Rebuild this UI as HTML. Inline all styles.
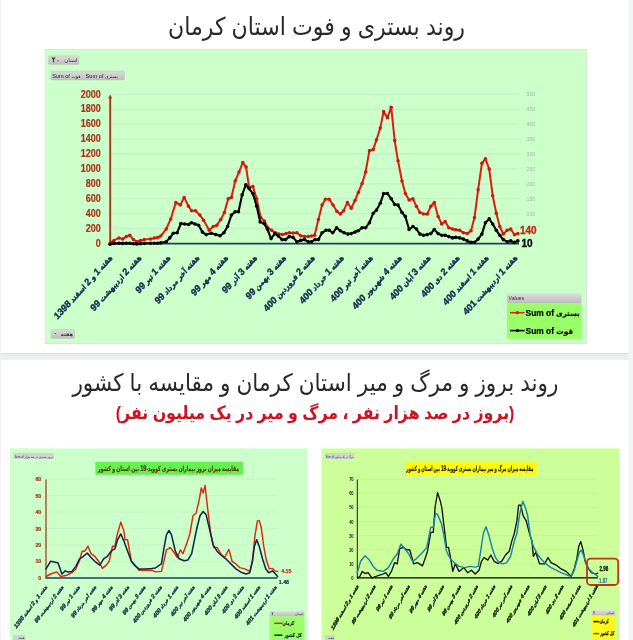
<!DOCTYPE html>
<html lang="fa">
<head>
<meta charset="utf-8">
<title>روند بستری و فوت استان کرمان</title>
<style>
html,body{margin:0;padding:0;background:#fff;}
body{width:633px;height:640px;overflow:hidden;position:relative;font-family:"Liberation Sans","DejaVu Sans",sans-serif;}
.t{position:absolute;left:0;width:633px;text-align:center;direction:rtl;white-space:nowrap;margin:0;line-height:1;}
#t1{top:16px;font-size:22.1px;color:#282828;font-weight:normal;transform:scaleY(1.12);transform-origin:50% 50%;}
#t2{left:-1.1px;top:372px;font-size:21.6px;color:#282828;font-weight:normal;transform:scaleY(1.12);transform-origin:50% 50%;}
#t3{left:-1.4px;top:405px;font-size:15.8px;color:#cf1222;font-weight:bold;transform:scaleY(1.14);transform-origin:50% 50%;}
svg{position:absolute;left:0;top:0;}
svg text{font-family:"Liberation Sans","DejaVu Sans",sans-serif;}
svg .xl text{font-family:"Liberation Sans","DejaVu Sans Condensed","DejaVu Sans",sans-serif;}
</style>
</head>
<body>
<svg width="633" height="640" viewBox="0 0 633 640">
<defs><linearGradient id="gb" x1="0" y1="0" x2="0" y2="1"><stop offset="0" stop-color="#dadcda"/><stop offset="1" stop-color="#bcc0bc"/></linearGradient></defs>
<defs><linearGradient id="gh" x1="0" y1="0" x2="0" y2="1"><stop offset="0" stop-color="#dedede"/><stop offset="1" stop-color="#bcbcbc"/></linearGradient></defs>
<rect x="628.6" y="0" width="4.4" height="640" fill="#f4f5f7"/>
<rect x="0" y="352.9" width="628.6" height="6.9" fill="#ebedf0"/>
<rect x="0" y="352.9" width="628.6" height="1.1" fill="#dddfe3"/>
<rect x="0" y="0" width="0.7" height="640" fill="#eef0f2"/>
<g id="top">
<rect x="45.2" y="49.4" width="541.4" height="294" fill="#ccffca" stroke="#d3e6d3" stroke-width="0.9"/>
<line x1="110" x2="519" y1="228.5" y2="228.5" stroke="#c3f2c5" stroke-width="1.3"/>
<line x1="110" x2="519" y1="213.6" y2="213.6" stroke="#c3f2c5" stroke-width="1.3"/>
<line x1="110" x2="519" y1="198.7" y2="198.7" stroke="#c3f2c5" stroke-width="1.3"/>
<line x1="110" x2="519" y1="183.8" y2="183.8" stroke="#c3f2c5" stroke-width="1.3"/>
<line x1="110" x2="519" y1="168.9" y2="168.9" stroke="#c3f2c5" stroke-width="1.3"/>
<line x1="110" x2="519" y1="154.0" y2="154.0" stroke="#c3f2c5" stroke-width="1.3"/>
<line x1="110" x2="519" y1="139.1" y2="139.1" stroke="#c3f2c5" stroke-width="1.3"/>
<line x1="110" x2="519" y1="124.2" y2="124.2" stroke="#c3f2c5" stroke-width="1.3"/>
<line x1="110" x2="519" y1="109.3" y2="109.3" stroke="#c3f2c5" stroke-width="1.3"/>
<line x1="110" x2="519" y1="94.4" y2="94.4" stroke="#c3f2c5" stroke-width="1.3"/>
<text transform="translate(100.8 246.5) scale(0.9 1)" font-size="10" font-weight="bold" fill="#ad3119" text-anchor="end" stroke="#ad3119" stroke-width="0.2">0</text>
<text transform="translate(100.8 231.6) scale(0.9 1)" font-size="10" font-weight="bold" fill="#ad3119" text-anchor="end" stroke="#ad3119" stroke-width="0.2">200</text>
<text transform="translate(100.8 216.7) scale(0.9 1)" font-size="10" font-weight="bold" fill="#ad3119" text-anchor="end" stroke="#ad3119" stroke-width="0.2">400</text>
<text transform="translate(100.8 201.8) scale(0.9 1)" font-size="10" font-weight="bold" fill="#ad3119" text-anchor="end" stroke="#ad3119" stroke-width="0.2">600</text>
<text transform="translate(100.8 186.9) scale(0.9 1)" font-size="10" font-weight="bold" fill="#ad3119" text-anchor="end" stroke="#ad3119" stroke-width="0.2">800</text>
<text transform="translate(100.8 172.0) scale(0.9 1)" font-size="10" font-weight="bold" fill="#ad3119" text-anchor="end" stroke="#ad3119" stroke-width="0.2">1000</text>
<text transform="translate(100.8 157.1) scale(0.9 1)" font-size="10" font-weight="bold" fill="#ad3119" text-anchor="end" stroke="#ad3119" stroke-width="0.2">1200</text>
<text transform="translate(100.8 142.2) scale(0.9 1)" font-size="10" font-weight="bold" fill="#ad3119" text-anchor="end" stroke="#ad3119" stroke-width="0.2">1400</text>
<text transform="translate(100.8 127.3) scale(0.9 1)" font-size="10" font-weight="bold" fill="#ad3119" text-anchor="end" stroke="#ad3119" stroke-width="0.2">1600</text>
<text transform="translate(100.8 112.4) scale(0.9 1)" font-size="10" font-weight="bold" fill="#ad3119" text-anchor="end" stroke="#ad3119" stroke-width="0.2">1800</text>
<text transform="translate(100.8 97.5) scale(0.9 1)" font-size="10" font-weight="bold" fill="#ad3119" text-anchor="end" stroke="#ad3119" stroke-width="0.2">2000</text>
<g font-size="5.2" fill="#a8b4aa" text-anchor="start">
<text x="526.6" y="215.5">100</text>
<text x="526.6" y="200.6">150</text>
<text x="526.6" y="185.7">200</text>
<text x="526.6" y="170.8">250</text>
<text x="526.6" y="155.9">300</text>
<text x="526.6" y="141.0">350</text>
<text x="526.6" y="126.1">400</text>
<text x="526.6" y="111.2">450</text>
<text x="526.6" y="96.3">500</text>
</g>
<line x1="110.2" x2="110.2" y1="243.4" y2="97" stroke="#a8361c" stroke-width="1.9"/>
<path d="M110.2 94.6 L108.2 98.6 L112.2 98.6 Z" fill="#a8361c"/>
<line x1="110" x2="519" y1="243.70000000000002" y2="243.70000000000002" stroke="#1b4259" stroke-width="1.8"/>
<polyline points="110.1,242.9 113.9,240.4 119.0,237.9 122.7,239.1 126.3,236.6 129.8,235.3 133.4,239.6 136.7,241.7 140.4,240.6 144.2,239.6 150.6,239.1 154.3,238.1 157.6,237.4 160.7,236.1 166.2,229.0 170.8,218.9 175.8,202.5 180.4,205.0 184.2,197.4 188.5,206.3 191.5,210.8 195.5,210.8 199.8,215.1 203.6,220.2 209.2,230.3 213.2,226.5 216.8,225.2 220.8,219.4 224.4,212.6 228.2,198.7 231.4,197.4 235.2,181.0 239.0,172.1 242.8,162.5 246.1,167.1 249.1,187.3 252.9,186.6 256.7,198.7 260.7,217.6 264.5,220.9 267.8,227.8 271.6,230.3 275.4,232.8 278.9,234.1 282.5,234.6 286.0,233.6 289.3,232.8 293.1,233.1 296.9,232.8 300.7,235.8 304.5,236.4 308.2,236.6 311.5,236.1 314.6,235.3 318.4,219.4 322.1,205.0 325.4,199.2 329.2,199.2 333.0,205.0 336.8,211.3 340.3,213.9 343.6,210.8 347.4,202.5 351.2,208.3 355.0,200.5 358.3,192.4 362.1,183.5 365.6,172.1 369.4,150.7 373.2,149.4 376.5,139.8 380.3,127.9 383.6,111.5 387.4,117.8 391.2,107.2 394.7,140.6 398.0,160.8 402.0,181.0 405.3,193.6 409.1,200.0 412.9,198.7 416.4,206.3 419.9,212.6 423.5,213.9 427.3,213.9 430.8,206.3 434.3,202.5 438.1,216.4 441.7,224.0 445.2,221.4 448.8,227.8 452.5,229.0 455.8,229.8 459.6,230.3 463.4,232.8 467.2,233.6 471.0,230.8 474.5,217.6 478.1,189.8 481.9,163.3 485.4,158.8 489.2,168.9 492.7,195.7 496.3,213.3 499.8,226.5 503.3,234.1 507.1,230.3 510.7,229.0 514.5,234.8 517.8,233.6" fill="none" stroke-linejoin="round" stroke-linecap="round" stroke="#dc1c0e" stroke-width="2"/>
<g fill="#d4140c"><circle cx="110.1" cy="242.9" r="1.75"/><circle cx="113.9" cy="240.4" r="1.75"/><circle cx="119.0" cy="237.9" r="1.75"/><circle cx="122.7" cy="239.1" r="1.75"/><circle cx="126.3" cy="236.6" r="1.75"/><circle cx="129.8" cy="235.3" r="1.75"/><circle cx="133.4" cy="239.6" r="1.75"/><circle cx="136.7" cy="241.7" r="1.75"/><circle cx="140.4" cy="240.6" r="1.75"/><circle cx="144.2" cy="239.6" r="1.75"/><circle cx="150.6" cy="239.1" r="1.75"/><circle cx="154.3" cy="238.1" r="1.75"/><circle cx="157.6" cy="237.4" r="1.75"/><circle cx="160.7" cy="236.1" r="1.75"/><circle cx="166.2" cy="229.0" r="1.75"/><circle cx="170.8" cy="218.9" r="1.75"/><circle cx="175.8" cy="202.5" r="1.75"/><circle cx="180.4" cy="205.0" r="1.75"/><circle cx="184.2" cy="197.4" r="1.75"/><circle cx="188.5" cy="206.3" r="1.75"/><circle cx="191.5" cy="210.8" r="1.75"/><circle cx="195.5" cy="210.8" r="1.75"/><circle cx="199.8" cy="215.1" r="1.75"/><circle cx="203.6" cy="220.2" r="1.75"/><circle cx="209.2" cy="230.3" r="1.75"/><circle cx="213.2" cy="226.5" r="1.75"/><circle cx="216.8" cy="225.2" r="1.75"/><circle cx="220.8" cy="219.4" r="1.75"/><circle cx="224.4" cy="212.6" r="1.75"/><circle cx="228.2" cy="198.7" r="1.75"/><circle cx="231.4" cy="197.4" r="1.75"/><circle cx="235.2" cy="181.0" r="1.75"/><circle cx="239.0" cy="172.1" r="1.75"/><circle cx="242.8" cy="162.5" r="1.75"/><circle cx="246.1" cy="167.1" r="1.75"/><circle cx="249.1" cy="187.3" r="1.75"/><circle cx="252.9" cy="186.6" r="1.75"/><circle cx="256.7" cy="198.7" r="1.75"/><circle cx="260.7" cy="217.6" r="1.75"/><circle cx="264.5" cy="220.9" r="1.75"/><circle cx="267.8" cy="227.8" r="1.75"/><circle cx="271.6" cy="230.3" r="1.75"/><circle cx="275.4" cy="232.8" r="1.75"/><circle cx="278.9" cy="234.1" r="1.75"/><circle cx="282.5" cy="234.6" r="1.75"/><circle cx="286.0" cy="233.6" r="1.75"/><circle cx="289.3" cy="232.8" r="1.75"/><circle cx="293.1" cy="233.1" r="1.75"/><circle cx="296.9" cy="232.8" r="1.75"/><circle cx="300.7" cy="235.8" r="1.75"/><circle cx="304.5" cy="236.4" r="1.75"/><circle cx="308.2" cy="236.6" r="1.75"/><circle cx="311.5" cy="236.1" r="1.75"/><circle cx="314.6" cy="235.3" r="1.75"/><circle cx="318.4" cy="219.4" r="1.75"/><circle cx="322.1" cy="205.0" r="1.75"/><circle cx="325.4" cy="199.2" r="1.75"/><circle cx="329.2" cy="199.2" r="1.75"/><circle cx="333.0" cy="205.0" r="1.75"/><circle cx="336.8" cy="211.3" r="1.75"/><circle cx="340.3" cy="213.9" r="1.75"/><circle cx="343.6" cy="210.8" r="1.75"/><circle cx="347.4" cy="202.5" r="1.75"/><circle cx="351.2" cy="208.3" r="1.75"/><circle cx="355.0" cy="200.5" r="1.75"/><circle cx="358.3" cy="192.4" r="1.75"/><circle cx="362.1" cy="183.5" r="1.75"/><circle cx="365.6" cy="172.1" r="1.75"/><circle cx="369.4" cy="150.7" r="1.75"/><circle cx="373.2" cy="149.4" r="1.75"/><circle cx="376.5" cy="139.8" r="1.75"/><circle cx="380.3" cy="127.9" r="1.75"/><circle cx="383.6" cy="111.5" r="1.75"/><circle cx="387.4" cy="117.8" r="1.75"/><circle cx="391.2" cy="107.2" r="1.75"/><circle cx="394.7" cy="140.6" r="1.75"/><circle cx="398.0" cy="160.8" r="1.75"/><circle cx="402.0" cy="181.0" r="1.75"/><circle cx="405.3" cy="193.6" r="1.75"/><circle cx="409.1" cy="200.0" r="1.75"/><circle cx="412.9" cy="198.7" r="1.75"/><circle cx="416.4" cy="206.3" r="1.75"/><circle cx="419.9" cy="212.6" r="1.75"/><circle cx="423.5" cy="213.9" r="1.75"/><circle cx="427.3" cy="213.9" r="1.75"/><circle cx="430.8" cy="206.3" r="1.75"/><circle cx="434.3" cy="202.5" r="1.75"/><circle cx="438.1" cy="216.4" r="1.75"/><circle cx="441.7" cy="224.0" r="1.75"/><circle cx="445.2" cy="221.4" r="1.75"/><circle cx="448.8" cy="227.8" r="1.75"/><circle cx="452.5" cy="229.0" r="1.75"/><circle cx="455.8" cy="229.8" r="1.75"/><circle cx="459.6" cy="230.3" r="1.75"/><circle cx="463.4" cy="232.8" r="1.75"/><circle cx="467.2" cy="233.6" r="1.75"/><circle cx="471.0" cy="230.8" r="1.75"/><circle cx="474.5" cy="217.6" r="1.75"/><circle cx="478.1" cy="189.8" r="1.75"/><circle cx="481.9" cy="163.3" r="1.75"/><circle cx="485.4" cy="158.8" r="1.75"/><circle cx="489.2" cy="168.9" r="1.75"/><circle cx="492.7" cy="195.7" r="1.75"/><circle cx="496.3" cy="213.3" r="1.75"/><circle cx="499.8" cy="226.5" r="1.75"/><circle cx="503.3" cy="234.1" r="1.75"/><circle cx="507.1" cy="230.3" r="1.75"/><circle cx="510.7" cy="229.0" r="1.75"/><circle cx="514.5" cy="234.8" r="1.75"/><circle cx="517.8" cy="233.6" r="1.75"/></g>
<polyline points="110.1,244.2 113.9,243.4 119.0,243.2 122.7,243.4 126.3,243.2 129.8,243.2 133.4,243.7 136.7,243.9 140.4,243.7 144.2,243.4 150.6,243.2 154.3,243.2 157.6,243.2 160.7,242.9 166.2,241.7 169.8,237.9 173.3,233.3 177.1,232.8 180.9,223.5 184.7,224.0 188.5,224.5 191.5,222.7 195.0,224.0 198.6,225.2 202.4,232.1 206.2,234.6 211.2,233.3 215.8,234.6 220.1,235.8 223.9,232.8 227.6,226.5 231.4,215.1 235.2,211.8 238.5,211.8 242.1,194.9 245.8,184.8 249.1,188.6 252.9,193.6 256.7,206.3 260.2,221.9 264.0,223.5 267.3,229.0 271.1,238.6 274.9,233.6 278.4,236.1 282.0,239.6 285.5,239.6 289.3,236.6 293.1,237.4 296.9,241.7 300.7,240.4 304.5,239.6 308.2,241.7 311.5,241.7 315.1,239.6 318.4,239.6 322.1,232.8 325.9,230.3 329.2,230.3 332.8,232.8 336.6,227.8 340.3,230.8 344.1,232.8 347.9,234.1 351.2,233.6 355.0,232.1 358.3,230.8 362.1,227.8 365.6,227.8 369.4,222.7 373.2,213.3 376.5,210.1 380.3,203.2 383.6,193.6 387.4,193.6 391.2,198.7 394.7,204.5 398.0,205.0 402.0,212.6 405.3,216.4 409.1,229.5 412.9,226.5 416.4,229.0 419.9,234.1 423.5,235.3 427.3,234.6 430.8,233.6 434.3,229.5 438.1,233.6 441.7,235.3 445.2,235.3 448.8,236.6 452.5,237.9 455.8,237.4 459.6,237.9 463.4,239.1 467.2,240.9 471.0,242.4 474.5,242.4 478.1,239.1 481.9,234.1 485.4,222.7 489.2,218.9 492.7,224.0 496.3,230.3 499.8,235.3 503.3,239.6 507.1,241.7 510.7,240.9 514.5,242.4 517.8,240.9" fill="none" stroke-linejoin="round" stroke-linecap="round" stroke="#000" stroke-width="2.1"/>
<g fill="#000"><circle cx="110.1" cy="244.2" r="1.8"/><circle cx="113.9" cy="243.4" r="1.8"/><circle cx="119.0" cy="243.2" r="1.8"/><circle cx="122.7" cy="243.4" r="1.8"/><circle cx="126.3" cy="243.2" r="1.8"/><circle cx="129.8" cy="243.2" r="1.8"/><circle cx="133.4" cy="243.7" r="1.8"/><circle cx="136.7" cy="243.9" r="1.8"/><circle cx="140.4" cy="243.7" r="1.8"/><circle cx="144.2" cy="243.4" r="1.8"/><circle cx="150.6" cy="243.2" r="1.8"/><circle cx="154.3" cy="243.2" r="1.8"/><circle cx="157.6" cy="243.2" r="1.8"/><circle cx="160.7" cy="242.9" r="1.8"/><circle cx="166.2" cy="241.7" r="1.8"/><circle cx="169.8" cy="237.9" r="1.8"/><circle cx="173.3" cy="233.3" r="1.8"/><circle cx="177.1" cy="232.8" r="1.8"/><circle cx="180.9" cy="223.5" r="1.8"/><circle cx="184.7" cy="224.0" r="1.8"/><circle cx="188.5" cy="224.5" r="1.8"/><circle cx="191.5" cy="222.7" r="1.8"/><circle cx="195.0" cy="224.0" r="1.8"/><circle cx="198.6" cy="225.2" r="1.8"/><circle cx="202.4" cy="232.1" r="1.8"/><circle cx="206.2" cy="234.6" r="1.8"/><circle cx="211.2" cy="233.3" r="1.8"/><circle cx="215.8" cy="234.6" r="1.8"/><circle cx="220.1" cy="235.8" r="1.8"/><circle cx="223.9" cy="232.8" r="1.8"/><circle cx="227.6" cy="226.5" r="1.8"/><circle cx="231.4" cy="215.1" r="1.8"/><circle cx="235.2" cy="211.8" r="1.8"/><circle cx="238.5" cy="211.8" r="1.8"/><circle cx="242.1" cy="194.9" r="1.8"/><circle cx="245.8" cy="184.8" r="1.8"/><circle cx="249.1" cy="188.6" r="1.8"/><circle cx="252.9" cy="193.6" r="1.8"/><circle cx="256.7" cy="206.3" r="1.8"/><circle cx="260.2" cy="221.9" r="1.8"/><circle cx="264.0" cy="223.5" r="1.8"/><circle cx="267.3" cy="229.0" r="1.8"/><circle cx="271.1" cy="238.6" r="1.8"/><circle cx="274.9" cy="233.6" r="1.8"/><circle cx="278.4" cy="236.1" r="1.8"/><circle cx="282.0" cy="239.6" r="1.8"/><circle cx="285.5" cy="239.6" r="1.8"/><circle cx="289.3" cy="236.6" r="1.8"/><circle cx="293.1" cy="237.4" r="1.8"/><circle cx="296.9" cy="241.7" r="1.8"/><circle cx="300.7" cy="240.4" r="1.8"/><circle cx="304.5" cy="239.6" r="1.8"/><circle cx="308.2" cy="241.7" r="1.8"/><circle cx="311.5" cy="241.7" r="1.8"/><circle cx="315.1" cy="239.6" r="1.8"/><circle cx="318.4" cy="239.6" r="1.8"/><circle cx="322.1" cy="232.8" r="1.8"/><circle cx="325.9" cy="230.3" r="1.8"/><circle cx="329.2" cy="230.3" r="1.8"/><circle cx="332.8" cy="232.8" r="1.8"/><circle cx="336.6" cy="227.8" r="1.8"/><circle cx="340.3" cy="230.8" r="1.8"/><circle cx="344.1" cy="232.8" r="1.8"/><circle cx="347.9" cy="234.1" r="1.8"/><circle cx="351.2" cy="233.6" r="1.8"/><circle cx="355.0" cy="232.1" r="1.8"/><circle cx="358.3" cy="230.8" r="1.8"/><circle cx="362.1" cy="227.8" r="1.8"/><circle cx="365.6" cy="227.8" r="1.8"/><circle cx="369.4" cy="222.7" r="1.8"/><circle cx="373.2" cy="213.3" r="1.8"/><circle cx="376.5" cy="210.1" r="1.8"/><circle cx="380.3" cy="203.2" r="1.8"/><circle cx="383.6" cy="193.6" r="1.8"/><circle cx="387.4" cy="193.6" r="1.8"/><circle cx="391.2" cy="198.7" r="1.8"/><circle cx="394.7" cy="204.5" r="1.8"/><circle cx="398.0" cy="205.0" r="1.8"/><circle cx="402.0" cy="212.6" r="1.8"/><circle cx="405.3" cy="216.4" r="1.8"/><circle cx="409.1" cy="229.5" r="1.8"/><circle cx="412.9" cy="226.5" r="1.8"/><circle cx="416.4" cy="229.0" r="1.8"/><circle cx="419.9" cy="234.1" r="1.8"/><circle cx="423.5" cy="235.3" r="1.8"/><circle cx="427.3" cy="234.6" r="1.8"/><circle cx="430.8" cy="233.6" r="1.8"/><circle cx="434.3" cy="229.5" r="1.8"/><circle cx="438.1" cy="233.6" r="1.8"/><circle cx="441.7" cy="235.3" r="1.8"/><circle cx="445.2" cy="235.3" r="1.8"/><circle cx="448.8" cy="236.6" r="1.8"/><circle cx="452.5" cy="237.9" r="1.8"/><circle cx="455.8" cy="237.4" r="1.8"/><circle cx="459.6" cy="237.9" r="1.8"/><circle cx="463.4" cy="239.1" r="1.8"/><circle cx="467.2" cy="240.9" r="1.8"/><circle cx="471.0" cy="242.4" r="1.8"/><circle cx="474.5" cy="242.4" r="1.8"/><circle cx="478.1" cy="239.1" r="1.8"/><circle cx="481.9" cy="234.1" r="1.8"/><circle cx="485.4" cy="222.7" r="1.8"/><circle cx="489.2" cy="218.9" r="1.8"/><circle cx="492.7" cy="224.0" r="1.8"/><circle cx="496.3" cy="230.3" r="1.8"/><circle cx="499.8" cy="235.3" r="1.8"/><circle cx="503.3" cy="239.6" r="1.8"/><circle cx="507.1" cy="241.7" r="1.8"/><circle cx="510.7" cy="240.9" r="1.8"/><circle cx="514.5" cy="242.4" r="1.8"/><circle cx="517.8" cy="240.9" r="1.8"/></g>
<text x="520" y="233.6" font-size="10" font-weight="bold" fill="#c4241a" stroke="#c4241a" stroke-width="0.3">140</text>
<text x="521.5" y="246.6" font-size="10" font-weight="bold" fill="#0a0a0a" stroke="#0a0a0a" stroke-width="0.35">10</text>
<g class="xl" font-size="7.9" font-weight="bold" fill="#122c50" text-anchor="end" stroke="#122c50" stroke-width="0.4"><text transform="translate(113.0 258.4) scale(0.9 1) rotate(-45)">هفته <tspan font-size="9.9">1</tspan> و <tspan font-size="9.9">2</tspan> اسفند <tspan font-size="9.9">1398</tspan></text><text transform="translate(141.9 258.4) scale(0.9 1) rotate(-45)">هفته <tspan font-size="9.9">2</tspan> اردیبهشت <tspan font-size="9.9">99</tspan></text><text transform="translate(170.9 258.4) scale(0.9 1) rotate(-45)">هفته <tspan font-size="9.9">1</tspan> تیر <tspan font-size="9.9">99</tspan></text><text transform="translate(199.8 258.4) scale(0.9 1) rotate(-45)">هفته آخر مرداد <tspan font-size="9.9">99</tspan></text><text transform="translate(228.7 258.4) scale(0.9 1) rotate(-45)">هفته <tspan font-size="9.9">4</tspan> مهر <tspan font-size="9.9">99</tspan></text><text transform="translate(257.6 258.4) scale(0.9 1) rotate(-45)">هفته <tspan font-size="9.9">3</tspan> آذر <tspan font-size="9.9">99</tspan></text><text transform="translate(286.6 258.4) scale(0.9 1) rotate(-45)">هفته <tspan font-size="9.9">3</tspan> بهمن <tspan font-size="9.9">99</tspan></text><text transform="translate(315.5 258.4) scale(0.9 1) rotate(-45)">هفته <tspan font-size="9.9">2</tspan> فروردین <tspan font-size="9.9">400</tspan></text><text transform="translate(344.4 258.4) scale(0.9 1) rotate(-45)">هفته <tspan font-size="9.9">1</tspan> خرداد <tspan font-size="9.9">400</tspan></text><text transform="translate(373.4 258.4) scale(0.9 1) rotate(-45)">هفته آخر تیر <tspan font-size="9.9">400</tspan></text><text transform="translate(402.3 258.4) scale(0.9 1) rotate(-45)">هفته <tspan font-size="9.9">4</tspan> شهریور <tspan font-size="9.9">400</tspan></text><text transform="translate(431.2 258.4) scale(0.9 1) rotate(-45)">هفته <tspan font-size="9.9">3</tspan> آبان <tspan font-size="9.9">400</tspan></text><text transform="translate(460.2 258.4) scale(0.9 1) rotate(-45)">هفته <tspan font-size="9.9">2</tspan> دی <tspan font-size="9.9">400</tspan></text><text transform="translate(489.1 258.4) scale(0.9 1) rotate(-45)">هفته <tspan font-size="9.9">1</tspan> اسفند <tspan font-size="9.9">400</tspan></text><text transform="translate(518.0 258.4) scale(0.9 1) rotate(-45)">هفته <tspan font-size="9.9">1</tspan> اردیبهشت <tspan font-size="9.9">401</tspan></text></g>
<rect x="48.5" y="55.8" width="30.5" height="8.8" rx="0.8" fill="url(#gb)" stroke="#bcc0bc" stroke-width="0.4"/>
<path d="M51.2 57.6 h4.6 l-1.7 2.1 v2.6 h-1.2 v-2.6 z" fill="#444"/>
<path d="M57.2 60.6 h1.8 l-0.9 1.1 z" fill="#444"/>
<text x="77.6" y="62.4" font-size="5.4" fill="#333" text-anchor="end">استان</text>
<rect x="51" y="71" width="36" height="9" rx="0.8" fill="url(#gb)" stroke="#bcc0bc" stroke-width="0.4"/>
<rect x="87" y="71" width="37.5" height="9" rx="0.8" fill="url(#gb)" stroke="#bcc0bc" stroke-width="0.4"/>
<text x="52.2" y="77.6" font-size="5.6" fill="#222">Sum of <tspan font-size="4.6">فوت</tspan></text>
<text x="85.6" y="77.6" font-size="5.6" fill="#222">Sum of <tspan font-size="4.6">بستری</tspan></text>
<rect x="51" y="329.6" width="23.5" height="9" rx="0.8" fill="url(#gb)" stroke="#bcc0bc" stroke-width="0.4"/>
<path d="M54.4 333 h2 l-1 1.3 z" fill="#444"/>
<text x="73" y="336" font-size="5" font-weight="bold" fill="#333" text-anchor="end">هفته</text>
<rect x="507" y="293.2" width="74.5" height="9.8" fill="url(#gh)"/>
<rect x="507" y="303" width="74.5" height="35.8" fill="#99ff66"/>
<text x="508.6" y="300.4" font-size="5.2" fill="#333">Values</text>
<line x1="510" x2="524.6" y1="312.7" y2="312.7" stroke="#e8200c" stroke-width="1.5"/><circle cx="517.4" cy="312.7" r="1.6" fill="#e01808"/>
<line x1="510" x2="524.6" y1="330.6" y2="330.6" stroke="#000" stroke-width="1.6"/><circle cx="517.4" cy="330.6" r="1.7" fill="#000"/>
<text x="525.6" y="315.6" font-size="8.4" font-weight="bold" fill="#000" stroke="#000" stroke-width="0.2">Sum of <tspan font-size="7">بستری</tspan></text>
<text x="525.6" y="333.5" font-size="8.4" font-weight="bold" fill="#000" stroke="#000" stroke-width="0.2">Sum of <tspan font-size="7.4">فوت</tspan></text>
</g>
<g id="bl">
<rect x="10" y="448.4" width="297.7" height="192" fill="#ccffca"/>
<line x1="46" x2="277.5" y1="561.4" y2="561.4" stroke="#c4f3c5" stroke-width="0.9"/>
<line x1="46" x2="277.5" y1="544.9" y2="544.9" stroke="#c4f3c5" stroke-width="0.9"/>
<line x1="46" x2="277.5" y1="528.5" y2="528.5" stroke="#c4f3c5" stroke-width="0.9"/>
<line x1="46" x2="277.5" y1="512.1" y2="512.1" stroke="#c4f3c5" stroke-width="0.9"/>
<line x1="46" x2="277.5" y1="495.6" y2="495.6" stroke="#c4f3c5" stroke-width="0.9"/>
<line x1="46" x2="277.5" y1="479.2" y2="479.2" stroke="#c4f3c5" stroke-width="0.9"/>
<text transform="translate(41.3 579.8) scale(0.9 1)" font-size="5.9" font-weight="bold" fill="#ad3119" text-anchor="end" stroke="#ad3119" stroke-width="0.2">0</text>
<text transform="translate(41.3 563.4) scale(0.9 1)" font-size="5.9" font-weight="bold" fill="#ad3119" text-anchor="end" stroke="#ad3119" stroke-width="0.2">10</text>
<text transform="translate(41.3 546.9) scale(0.9 1)" font-size="5.9" font-weight="bold" fill="#ad3119" text-anchor="end" stroke="#ad3119" stroke-width="0.2">20</text>
<text transform="translate(41.3 530.5) scale(0.9 1)" font-size="5.9" font-weight="bold" fill="#ad3119" text-anchor="end" stroke="#ad3119" stroke-width="0.2">30</text>
<text transform="translate(41.3 514.1) scale(0.9 1)" font-size="5.9" font-weight="bold" fill="#ad3119" text-anchor="end" stroke="#ad3119" stroke-width="0.2">40</text>
<text transform="translate(41.3 497.6) scale(0.9 1)" font-size="5.9" font-weight="bold" fill="#ad3119" text-anchor="end" stroke="#ad3119" stroke-width="0.2">50</text>
<text transform="translate(41.3 481.2) scale(0.9 1)" font-size="5.9" font-weight="bold" fill="#ad3119" text-anchor="end" stroke="#ad3119" stroke-width="0.2">60</text>
<line x1="46" x2="46" y1="577.8" y2="479.5" stroke="#a8401c" stroke-width="1.3"/>
<line x1="45.5" x2="277.5" y1="578.0" y2="578.0" stroke="#17405e" stroke-width="1.4"/>
<polyline points="46.0,576.5 50.6,574.0 56.9,571.9 60.7,576.5 67.0,575.2 72.0,572.7 75.8,568.9 79.6,560.1 82.1,551.2 84.7,551.2 88.0,546.2 91.0,553.7 94.8,556.3 98.6,561.3 102.4,568.4 106.2,565.1 109.2,561.3 112.5,546.2 115.0,546.2 116.8,536.1 120.8,522.1 123.9,531.0 125.1,539.8 127.6,539.8 131.4,561.3 134.0,563.9 139.0,570.2 145.3,570.2 151.7,570.2 155.5,571.9 161.4,571.4 163.9,561.3 166.4,550.0 170.2,547.4 174.0,552.5 177.3,557.5 180.3,550.0 182.9,553.7 186.7,543.6 189.9,533.5 193.0,515.8 196.0,513.3 199.3,499.4 201.3,488.0 203.1,493.1 205.1,485.5 207.6,508.2 210.7,533.5 213.7,547.4 217.0,547.4 220.8,553.7 224.6,557.5 228.9,549.4 232.1,561.3 235.9,563.9 239.7,567.6 244.8,568.9 249.8,571.4 252.4,561.3 254.9,536.1 257.4,520.9 259.2,520.4 261.2,527.2 263.7,546.2 266.3,560.1 269.3,568.9 272.6,568.4 275.1,570.9 277.6,571.4" fill="none" stroke-linejoin="round" stroke-linecap="round" stroke="#de2810" stroke-width="1.45"/>
<polyline points="46.0,568.9 50.6,561.3 54.3,562.1 58.1,563.1 61.9,574.0 65.2,570.9 68.2,571.9 72.0,571.4 75.8,566.4 79.6,558.8 83.4,556.3 87.2,553.0 91.0,557.5 94.8,561.3 99.8,565.1 103.6,558.8 107.4,556.3 111.2,551.2 115.0,548.7 117.5,539.8 120.8,534.0 123.9,541.1 127.6,551.2 131.4,561.3 135.2,565.9 139.0,568.9 145.3,568.9 151.7,568.4 155.5,567.9 161.4,563.9 163.9,548.7 166.4,534.8 169.0,530.5 171.5,534.8 175.3,551.2 179.1,558.8 184.1,560.8 187.9,560.1 191.7,553.7 194.2,541.1 196.8,528.5 200.0,515.8 203.1,511.5 206.1,514.6 209.4,528.5 213.2,544.9 217.0,551.2 220.8,555.0 225.8,558.8 230.9,563.9 235.9,568.9 241.0,572.2 246.1,574.0 249.8,572.7 252.4,561.3 254.4,546.2 256.7,539.8 259.2,546.2 262.5,558.8 265.8,568.9 268.8,572.7 272.6,570.9 275.1,573.5 277.6,576.5" fill="none" stroke-linejoin="round" stroke-linecap="round" stroke="#10284e" stroke-width="1.55"/>
<text transform="translate(281.2 573.2) scale(0.85 1)" font-size="6.2" font-weight="bold" fill="#cf261a" text-anchor="start" stroke="#cf261a" stroke-width="0.25">4.15</text>
<text transform="translate(278.8 584) scale(0.85 1)" font-size="6.2" font-weight="bold" fill="#142c4c" text-anchor="start" stroke="#142c4c" stroke-width="0.25">1.48</text>
<rect x="95.4" y="461.8" width="148" height="13" fill="#66f052"/>
<text x="168.6" y="471" font-size="7" font-weight="bold" fill="#5a340a" stroke="#5a340a" stroke-width="0.15" text-anchor="middle" textLength="141" lengthAdjust="spacingAndGlyphs">مقایسه میزان بروز بیماران بستری کووید-<tspan font-size="8.6">19</tspan> بین استان و کشور</text>
<rect x="13.5" y="453" width="40.5" height="6" rx="0.6" fill="#d0d4d0"/>
<text x="14.4" y="457.5" font-size="3.2" fill="#333" textLength="38.5" lengthAdjust="spacingAndGlyphs">Sum of بروز بستری در صد هزار</text>
<g class="xl" font-size="5.3" font-weight="bold" fill="#12323f" text-anchor="end" stroke="#12323f" stroke-width="0.4"><text transform="translate(47.4 587.4) scale(0.75 1) rotate(-45)">هفته <tspan font-size="6.8">1</tspan> و <tspan font-size="6.8">2</tspan> اسفند <tspan font-size="6.8">1398</tspan></text><text transform="translate(63.8 587.4) scale(0.75 1) rotate(-45)">هفته <tspan font-size="6.8">2</tspan> اردیبهشت <tspan font-size="6.8">99</tspan></text><text transform="translate(80.2 587.4) scale(0.75 1) rotate(-45)">هفته <tspan font-size="6.8">1</tspan> تیر <tspan font-size="6.8">99</tspan></text><text transform="translate(96.6 587.4) scale(0.75 1) rotate(-45)">هفته آخر مرداد <tspan font-size="6.8">99</tspan></text><text transform="translate(113.0 587.4) scale(0.75 1) rotate(-45)">هفته <tspan font-size="6.8">4</tspan> مهر <tspan font-size="6.8">99</tspan></text><text transform="translate(129.4 587.4) scale(0.75 1) rotate(-45)">هفته <tspan font-size="6.8">3</tspan> آذر <tspan font-size="6.8">99</tspan></text><text transform="translate(145.8 587.4) scale(0.75 1) rotate(-45)">هفته <tspan font-size="6.8">3</tspan> بهمن <tspan font-size="6.8">99</tspan></text><text transform="translate(162.2 587.4) scale(0.75 1) rotate(-45)">هفته <tspan font-size="6.8">2</tspan> فروردین <tspan font-size="6.8">400</tspan></text><text transform="translate(178.6 587.4) scale(0.75 1) rotate(-45)">هفته <tspan font-size="6.8">1</tspan> خرداد <tspan font-size="6.8">400</tspan></text><text transform="translate(195.0 587.4) scale(0.75 1) rotate(-45)">هفته آخر تیر <tspan font-size="6.8">400</tspan></text><text transform="translate(211.4 587.4) scale(0.75 1) rotate(-45)">هفته <tspan font-size="6.8">4</tspan> شهریور <tspan font-size="6.8">400</tspan></text><text transform="translate(227.8 587.4) scale(0.75 1) rotate(-45)">هفته <tspan font-size="6.8">3</tspan> آبان <tspan font-size="6.8">400</tspan></text><text transform="translate(244.2 587.4) scale(0.75 1) rotate(-45)">هفته <tspan font-size="6.8">2</tspan> دی <tspan font-size="6.8">400</tspan></text><text transform="translate(260.6 587.4) scale(0.75 1) rotate(-45)">هفته <tspan font-size="6.8">1</tspan> اسفند <tspan font-size="6.8">400</tspan></text><text transform="translate(277.0 587.4) scale(0.75 1) rotate(-45)">هفته <tspan font-size="6.8">1</tspan> اردیبهشت <tspan font-size="6.8">401</tspan></text></g>
<rect x="13" y="635" width="12.5" height="5.5" fill="#d0d4d0"/>
<text x="24.6" y="639.4" font-size="3.4" fill="#333" text-anchor="end">هفته</text>
<rect x="269.6" y="611" width="34.8" height="5.5" fill="url(#gh)"/>
<rect x="269.6" y="616.5" width="34.8" height="24" fill="#9cff6a"/>
<path d="M271.2 612.4 h2.6 l-1 1.2 v1.6 h-0.6 v-1.6 z" fill="#444"/>
<text x="303.4" y="615.2" font-size="3.4" fill="#333" text-anchor="end">استان</text>
<line x1="274.3" x2="282.4" y1="623.3" y2="623.3" stroke="#de2810" stroke-width="1.5"/>
<line x1="274.3" x2="282.4" y1="635.2" y2="635.2" stroke="#10284e" stroke-width="1.5"/>
<text transform="translate(282.6 625.2) scale(0.72 1)" font-size="5.3" font-weight="bold" fill="#2a2408" text-anchor="start" stroke="#2a2408" stroke-width="0.2">کرمان</text>
<text transform="translate(284.4 637.1) scale(0.72 1)" font-size="5.3" font-weight="bold" fill="#0c2430" text-anchor="start" stroke="#0c2430" stroke-width="0.2">کل کشور</text>
</g>
<g id="br">
<rect x="321.4" y="448.4" width="297.7" height="192" fill="#ccff99"/>
<line x1="357.3" x2="597.8" y1="563.7" y2="563.7" stroke="#c2f094" stroke-width="0.8"/>
<line x1="357.3" x2="597.8" y1="549.6" y2="549.6" stroke="#c2f094" stroke-width="0.8"/>
<line x1="357.3" x2="597.8" y1="535.6" y2="535.6" stroke="#c2f094" stroke-width="0.8"/>
<line x1="357.3" x2="597.8" y1="521.5" y2="521.5" stroke="#c2f094" stroke-width="0.8"/>
<line x1="357.3" x2="597.8" y1="507.4" y2="507.4" stroke="#c2f094" stroke-width="0.8"/>
<line x1="357.3" x2="597.8" y1="493.3" y2="493.3" stroke="#c2f094" stroke-width="0.8"/>
<line x1="357.3" x2="597.8" y1="479.2" y2="479.2" stroke="#c2f094" stroke-width="0.8"/>
<text transform="translate(353.6 579.8) scale(0.72 1)" font-size="5.6" font-weight="bold" fill="#1a1a1a" text-anchor="end" >0</text>
<text transform="translate(353.6 565.7) scale(0.72 1)" font-size="5.6" font-weight="bold" fill="#1a1a1a" text-anchor="end" >10</text>
<text transform="translate(353.6 551.6) scale(0.72 1)" font-size="5.6" font-weight="bold" fill="#1a1a1a" text-anchor="end" >20</text>
<text transform="translate(353.6 537.6) scale(0.72 1)" font-size="5.6" font-weight="bold" fill="#1a1a1a" text-anchor="end" >30</text>
<text transform="translate(353.6 523.5) scale(0.72 1)" font-size="5.6" font-weight="bold" fill="#1a1a1a" text-anchor="end" >40</text>
<text transform="translate(353.6 509.4) scale(0.72 1)" font-size="5.6" font-weight="bold" fill="#1a1a1a" text-anchor="end" >50</text>
<text transform="translate(353.6 495.3) scale(0.72 1)" font-size="5.6" font-weight="bold" fill="#1a1a1a" text-anchor="end" >60</text>
<text transform="translate(353.6 481.2) scale(0.72 1)" font-size="5.6" font-weight="bold" fill="#1a1a1a" text-anchor="end" >70</text>
<line x1="357.3" x2="357.3" y1="577.8" y2="479.5" stroke="#1a1a1a" stroke-width="1"/>
<line x1="357" x2="597.8" y1="577.8" y2="577.8" stroke="#000" stroke-width="1.25"/>
<polyline points="357.3,577.8 359.8,576.5 362.3,571.4 365.1,573.5 368.1,572.7 371.9,577.8 375.7,576.5 379.5,575.2 383.3,574.0 385.8,572.7 388.4,576.5 391.4,571.4 394.7,562.6 397.2,563.9 399.7,548.7 403.5,547.4 406.1,549.4 409.8,550.0 413.6,563.9 417.4,562.6 422.5,565.9 425.0,558.8 427.5,551.2 430.8,532.3 433.3,532.3 435.1,507.0 437.6,492.6 440.2,500.7 441.9,508.2 444.0,525.9 446.5,547.4 448.5,547.4 450.3,556.3 452.8,571.4 455.3,563.9 459.1,571.4 463.8,567.6 467.6,572.7 471.4,570.2 475.2,574.0 479.0,570.2 481.5,561.3 484.0,557.5 487.8,560.1 490.8,555.0 494.1,561.3 497.9,563.3 501.7,561.3 505.5,555.0 509.3,551.2 511.8,541.1 514.3,533.5 516.9,520.9 518.6,505.2 520.7,505.2 523.2,515.8 526.2,520.9 529.5,533.5 532.0,541.1 533.3,556.3 535.8,552.5 539.6,563.9 544.7,563.9 548.0,557.5 551.0,562.6 556.1,565.1 561.1,568.9 566.2,571.4 571.2,576.5 574.2,568.9 576.8,558.8 578.8,546.2 580.8,541.6 583.3,551.2 585.1,561.3 587.6,567.6 591.4,572.7 595.2,574.0 597.8,573.2" fill="none" stroke-linejoin="round" stroke-linecap="round" stroke="#0a0a0a" stroke-width="1.3"/>
<polyline points="357.3,572.7 360.6,561.3 365.1,555.8 369.4,560.1 373.2,566.4 377.0,570.2 383.3,571.4 388.4,567.6 393.4,558.8 397.2,553.7 401.0,544.1 404.8,548.7 408.6,553.7 412.4,561.3 416.2,558.8 422.5,552.5 426.8,547.4 430.8,527.2 433.3,527.2 435.6,513.3 437.6,514.6 441.4,523.4 444.0,536.1 446.5,551.2 450.3,558.8 454.1,562.6 459.1,566.4 465.1,567.6 470.1,566.4 475.2,567.1 478.2,566.4 480.7,551.2 483.3,533.5 486.0,526.7 489.1,536.1 492.4,548.7 495.4,557.5 499.2,562.6 503.0,563.9 506.8,562.6 510.6,556.3 514.3,541.1 516.9,533.5 519.4,515.8 522.7,501.4 525.2,507.0 527.7,515.8 530.3,536.1 533.3,546.2 537.1,553.7 540.9,558.8 545.9,563.9 551.0,567.6 556.1,570.2 561.1,572.7 566.2,574.7 571.2,576.5 574.2,570.2 576.8,561.3 579.3,552.5 581.3,550.0 583.9,556.3 586.4,563.9 588.9,568.9 592.7,572.7 596.5,575.2 597.8,576.5" fill="none" stroke-linejoin="round" stroke-linecap="round" stroke="#1b84a6" stroke-width="1.45"/>
<rect x="587" y="558.6" width="31.2" height="26.4" rx="3.6" fill="none" stroke="#c4340f" stroke-width="1.8"/>
<text transform="translate(599.6 570.7) scale(0.68 1)" font-size="6.6" font-weight="bold" fill="#111" text-anchor="start" stroke="#111" stroke-width="0.3">2.96</text>
<text transform="translate(599.0 582.7) scale(0.68 1)" font-size="6.4" font-weight="bold" fill="#2a7f96" text-anchor="start" stroke="#2a7f96" stroke-width="0.2">1.67</text>
<rect x="405.4" y="461.8" width="131.6" height="13.6" fill="#fdfb14"/>
<text x="469.8" y="471.4" font-size="7" font-weight="bold" fill="#151515" stroke="#151515" stroke-width="0.15" text-anchor="middle" textLength="127" lengthAdjust="spacingAndGlyphs">مقایسه میزان مرگ و میر بیماران بستری کووید-<tspan font-size="8.6">19</tspan> بین استان و کشور</text>
<rect x="325" y="453" width="29.5" height="6" rx="0.6" fill="#d0d4d0"/>
<text x="325.8" y="457.5" font-size="3.2" fill="#333" textLength="27.8" lengthAdjust="spacingAndGlyphs">Sum of مرگ در یک میلیون</text>
<g class="xl" font-size="5.7" font-weight="bold" fill="#0e1e0a" text-anchor="end" stroke="#0e1e0a" stroke-width="0.5"><text transform="translate(358.6 586.6) scale(0.58 1) rotate(-45)">هفته <tspan font-size="7.0">1</tspan> و <tspan font-size="7.0">2</tspan> اسفند <tspan font-size="7.0">1398</tspan></text><text transform="translate(375.7 586.6) scale(0.58 1) rotate(-45)">هفته <tspan font-size="7.0">2</tspan> اردیبهشت <tspan font-size="7.0">99</tspan></text><text transform="translate(392.8 586.6) scale(0.58 1) rotate(-45)">هفته <tspan font-size="7.0">1</tspan> تیر <tspan font-size="7.0">99</tspan></text><text transform="translate(409.9 586.6) scale(0.58 1) rotate(-45)">هفته آخر مرداد <tspan font-size="7.0">99</tspan></text><text transform="translate(427.0 586.6) scale(0.58 1) rotate(-45)">هفته <tspan font-size="7.0">4</tspan> مهر <tspan font-size="7.0">99</tspan></text><text transform="translate(444.1 586.6) scale(0.58 1) rotate(-45)">هفته <tspan font-size="7.0">3</tspan> آذر <tspan font-size="7.0">99</tspan></text><text transform="translate(461.2 586.6) scale(0.58 1) rotate(-45)">هفته <tspan font-size="7.0">3</tspan> بهمن <tspan font-size="7.0">99</tspan></text><text transform="translate(478.3 586.6) scale(0.58 1) rotate(-45)">هفته <tspan font-size="7.0">2</tspan> فروردین <tspan font-size="7.0">400</tspan></text><text transform="translate(495.4 586.6) scale(0.58 1) rotate(-45)">هفته <tspan font-size="7.0">1</tspan> خرداد <tspan font-size="7.0">400</tspan></text><text transform="translate(512.5 586.6) scale(0.58 1) rotate(-45)">هفته آخر تیر <tspan font-size="7.0">400</tspan></text><text transform="translate(529.6 586.6) scale(0.58 1) rotate(-45)">هفته <tspan font-size="7.0">4</tspan> شهریور <tspan font-size="7.0">400</tspan></text><text transform="translate(546.7 586.6) scale(0.58 1) rotate(-45)">هفته <tspan font-size="7.0">3</tspan> آبان <tspan font-size="7.0">400</tspan></text><text transform="translate(563.8 586.6) scale(0.58 1) rotate(-45)">هفته <tspan font-size="7.0">2</tspan> دی <tspan font-size="7.0">400</tspan></text><text transform="translate(580.9 586.6) scale(0.58 1) rotate(-45)">هفته <tspan font-size="7.0">1</tspan> اسفند <tspan font-size="7.0">400</tspan></text><text transform="translate(598.0 586.6) scale(0.58 1) rotate(-45)">هفته <tspan font-size="7.0">1</tspan> اردیبهشت <tspan font-size="7.0">401</tspan></text></g>
<rect x="325" y="635" width="9.5" height="5.5" fill="#d0d4d0"/>
<text x="334" y="639.4" font-size="3.2" fill="#333" text-anchor="end">هفته</text>
<rect x="591.8" y="610" width="23.4" height="5.6" fill="url(#gh)"/>
<rect x="591.8" y="615.6" width="23.4" height="25" fill="#fdf91c"/>
<path d="M592.8 611.4 h2.4 l-0.9 1.2 v1.6 h-0.6 v-1.6 z" fill="#444"/>
<text x="614.4" y="614.4" font-size="3.2" fill="#333" text-anchor="end">استان</text>
<line x1="593.4" x2="599.2" y1="621.6" y2="621.6" stroke="#0a0a0a" stroke-width="1.5"/>
<line x1="593.4" x2="599.2" y1="633.6" y2="633.6" stroke="#1a7f9e" stroke-width="1.5"/>
<text transform="translate(599.4 623.4) scale(0.6 1)" font-size="5.2" font-weight="bold" fill="#1a1a1a" text-anchor="start" stroke="#1a1a1a" stroke-width="0.25">کرمان</text>
<text transform="translate(600.2 635.4) scale(0.6 1)" font-size="5.2" font-weight="bold" fill="#1a1a1a" text-anchor="start" stroke="#1a1a1a" stroke-width="0.25">کل کشور</text>
</g>
</svg>
<h1 class="t" id="t1">روند بستری و فوت استان کرمان</h1>
<h2 class="t" id="t2">روند بروز و مرگ و میر استان کرمان و مقایسه با کشور</h2>
<p class="t" id="t3">(بروز در صد هزار نفر ، مرگ و میر در یک میلیون نفر)</p>
</body>
</html>
